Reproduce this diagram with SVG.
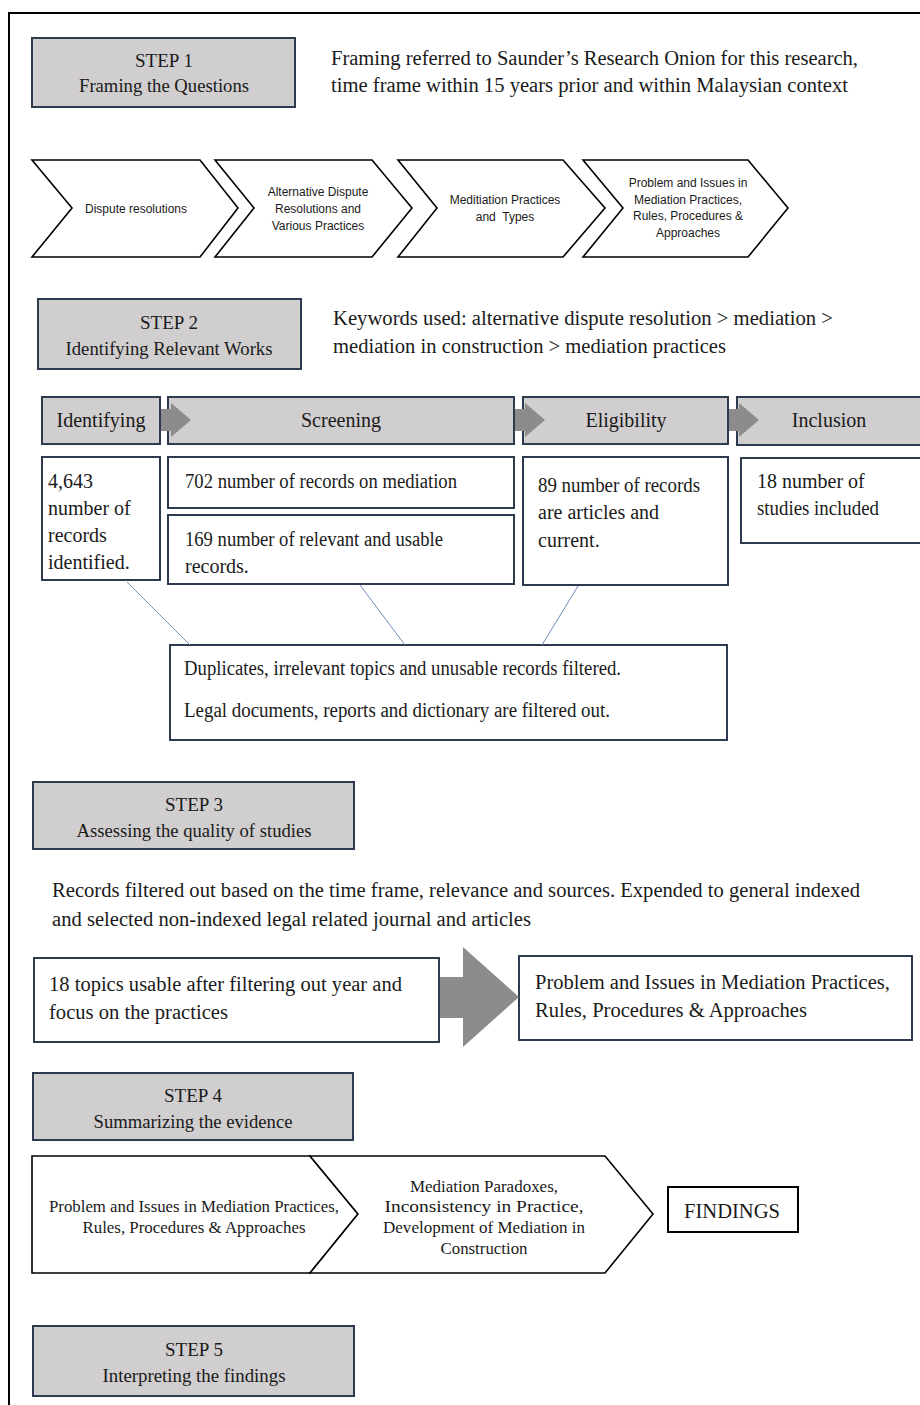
<svg xmlns="http://www.w3.org/2000/svg" width="920" height="1405" viewBox="0 0 920 1405">
<style>
.bg{fill:#ffffff}
.frame{fill:none;stroke:#000;stroke-width:2}
.step{fill:#d0cece;stroke:#2e3a4e;stroke-width:2}
.hdr{fill:#d0cece;stroke:#2e3a4e;stroke-width:2}
.box{fill:#ffffff;stroke:#2e3a4e;stroke-width:2}
.chev{fill:#ffffff;stroke:#000;stroke-width:1.6;stroke-linejoin:miter}
.garrow{fill:#8c8c8c}
.link{stroke:#6f8db5;stroke-width:1;fill:none}
.t{font-family:"Liberation Serif","Times New Roman",serif;font-size:20px;fill:#1a1a1a}
.ts{font-family:"Liberation Serif","Times New Roman",serif;font-size:19px;fill:#1a1a1a}
.t4{font-family:"Liberation Serif","Times New Roman",serif;font-size:17px;fill:#1a1a1a}
.c{font-family:"Liberation Sans",Arial,sans-serif;font-size:12px;fill:#1a1a1a}
.mid{text-anchor:middle}
</style>
<rect class="bg" x="0" y="0" width="920" height="1405"/>
<path class="frame" d="M9,1405 L9,13 L920,13"/>

<g id="step1">
<rect class="step" x="32" y="38" width="263" height="69"/>
<text class="ts mid" x="164" y="67">STEP 1</text>
<text class="ts mid" x="164" y="92" textLength="170" lengthAdjust="spacingAndGlyphs">Framing the Questions</text>
</g>
<g id="step1-note">
<text class="t" x="331" y="65" textLength="527" lengthAdjust="spacingAndGlyphs">Framing referred to Saunder’s Research Onion for this research,</text>
<text class="t" x="331" y="92" textLength="517" lengthAdjust="spacingAndGlyphs">time frame within 15 years prior and within Malaysian context</text>
</g>

<g id="chev1">
<path class="chev" d="M32,160 L200,160 L238,208 L200,257 L32,257 L72,208 Z"/>
<text class="c mid" x="136" y="213">Dispute resolutions</text>
</g>
<g id="chev2">
<path class="chev" d="M215,160 L372,160 L412,208 L372,257 L215,257 L254,208 Z"/>
<text class="c mid" x="318" y="196">Alternative Dispute</text>
<text class="c mid" x="318" y="213">Resolutions and</text>
<text class="c mid" x="318" y="230">Various Practices</text>
</g>
<g id="chev3">
<path class="chev" d="M398,160 L563,160 L605,208 L563,257 L398,257 L437,208 Z"/>
<text class="c mid" x="505" y="204">Meditiation Practices</text>
<text class="c mid" x="505" y="221" xml:space="preserve">and  Types</text>
</g>
<g id="chev4">
<path class="chev" d="M583,160 L748,160 L788,208 L748,257 L583,257 L623,208 Z"/>
<text class="c mid" x="688" y="187">Problem and Issues in</text>
<text class="c mid" x="688" y="204">Mediation Practices,</text>
<text class="c mid" x="688" y="220">Rules, Procedures &amp;</text>
<text class="c mid" x="688" y="237">Approaches</text>
</g>

<g id="step2">
<rect class="step" x="38" y="299" width="263" height="70"/>
<text class="ts mid" x="169" y="329">STEP 2</text>
<text class="ts mid" x="169" y="355" textLength="207" lengthAdjust="spacingAndGlyphs">Identifying Relevant Works</text>
</g>
<g id="step2-note">
<text class="t" x="333" y="325" textLength="500" lengthAdjust="spacingAndGlyphs">Keywords used: alternative dispute resolution &gt; mediation &gt;</text>
<text class="t" x="333" y="353" textLength="393" lengthAdjust="spacingAndGlyphs">mediation in construction &gt; mediation practices</text>
</g>

<g id="hdr-identifying">
<rect class="hdr" x="42" y="397" width="118" height="47"/>
<text class="t mid" x="101" y="427">Identifying</text>
</g>
<g id="hdr-screening">
<rect class="hdr" x="168" y="397" width="346" height="47"/>
<text class="t mid" x="341" y="427">Screening</text>
</g>
<g id="hdr-eligibility">
<rect class="hdr" x="523" y="397" width="205" height="47"/>
<text class="t mid" x="626" y="427">Eligibility</text>
</g>
<g id="hdr-inclusion">
<rect class="hdr" x="737" y="397" width="190" height="48"/>
<text class="t mid" x="829" y="427">Inclusion</text>
</g>

<g id="box-identified">
<rect class="box" x="42" y="457" width="118" height="123"/>
<text class="t" x="48" y="488">4,643</text>
<text class="t" x="48" y="515">number of</text>
<text class="t" x="48" y="542">records</text>
<text class="t" x="48" y="569">identified.</text>
</g>
<g id="box-702">
<rect class="box" x="168" y="457" width="346" height="51"/>
<text class="t" x="185" y="488" textLength="272" lengthAdjust="spacingAndGlyphs">702 number of records on mediation</text>
</g>
<g id="box-169">
<rect class="box" x="168" y="515" width="346" height="69"/>
<text class="t" x="185" y="546" textLength="258" lengthAdjust="spacingAndGlyphs">169 number of relevant and usable</text>
<text class="t" x="185" y="573">records.</text>
</g>
<g id="box-89">
<rect class="box" x="523" y="457" width="205" height="128"/>
<text class="t" x="538" y="492" textLength="162" lengthAdjust="spacingAndGlyphs">89 number of records</text>
<text class="t" x="538" y="519">are articles and</text>
<text class="t" x="538" y="547">current.</text>
</g>
<g id="box-18">
<rect class="box" x="741" y="458" width="190" height="85"/>
<text class="t" x="757" y="488">18 number of</text>
<text class="t" x="757" y="515" textLength="122" lengthAdjust="spacingAndGlyphs">studies included</text>
</g>

<g id="box-filtered">
<rect class="box" x="170" y="645" width="557" height="95"/>
<text class="t" x="184" y="675" textLength="437" lengthAdjust="spacingAndGlyphs">Duplicates, irrelevant topics and unusable records filtered.</text>
<text class="t" x="184" y="717" textLength="426" lengthAdjust="spacingAndGlyphs">Legal documents, reports and dictionary are filtered out.</text>
</g>

<g id="step3">
<rect class="step" x="33" y="782" width="321" height="67"/>
<text class="ts mid" x="194" y="811">STEP 3</text>
<text class="ts mid" x="194" y="837" textLength="235" lengthAdjust="spacingAndGlyphs">Assessing the quality of studies</text>
</g>
<g id="step3-note">
<text class="t" x="52" y="897" textLength="808" lengthAdjust="spacingAndGlyphs">Records filtered out based on the time frame, relevance and sources. Expended to general indexed</text>
<text class="t" x="52" y="926" textLength="479" lengthAdjust="spacingAndGlyphs">and selected non-indexed legal related journal and articles</text>
</g>

<g id="box-topics">
<rect class="box" x="34" y="958" width="405" height="84"/>
<text class="t" x="49" y="991" textLength="353" lengthAdjust="spacingAndGlyphs">18 topics usable after filtering out year and</text>
<text class="t" x="49" y="1019" textLength="179" lengthAdjust="spacingAndGlyphs">focus on the practices</text>
</g>
<g id="box-problem">
<rect class="box" x="519" y="956" width="393" height="84"/>
<text class="t" x="535" y="989" textLength="355" lengthAdjust="spacingAndGlyphs">Problem and Issues in Mediation Practices,</text>
<text class="t" x="535" y="1017" textLength="272" lengthAdjust="spacingAndGlyphs">Rules, Procedures &amp; Approaches</text>
</g>

<g id="step4">
<rect class="step" x="33" y="1073" width="320" height="67"/>
<text class="ts mid" x="193" y="1102">STEP 4</text>
<text class="ts mid" x="193" y="1128" textLength="199" lengthAdjust="spacingAndGlyphs">Summarizing the evidence</text>
</g>

<g id="pent-problem">
<path class="chev" d="M32,1156 L310,1156 L358,1214 L310,1273 L32,1273 Z"/>
<text class="t4 mid" x="194" y="1212" textLength="290" lengthAdjust="spacingAndGlyphs">Problem and Issues in Mediation Practices,</text>
<text class="t4 mid" x="194" y="1233" textLength="223" lengthAdjust="spacingAndGlyphs">Rules, Procedures &amp; Approaches</text>
</g>
<g id="chev-paradoxes">
<path class="chev" d="M310,1156 L605,1156 L653,1214 L605,1273 L310,1273 L358,1214 Z"/>
<text class="t4 mid" x="484" y="1192" textLength="148" lengthAdjust="spacingAndGlyphs">Mediation Paradoxes,</text>
<text class="t4 mid" x="484" y="1212" textLength="199" lengthAdjust="spacingAndGlyphs">Inconsistency in Practice,</text>
<text class="t4 mid" x="484" y="1233" textLength="202" lengthAdjust="spacingAndGlyphs">Development of Mediation in</text>
<text class="t4 mid" x="484" y="1254" textLength="87" lengthAdjust="spacingAndGlyphs">Construction</text>
</g>
<g id="findings">
<rect class="box" x="668" y="1187" width="130" height="45" style="stroke:#000"/>
<text class="t mid" x="732" y="1218" textLength="96" lengthAdjust="spacingAndGlyphs">FINDINGS</text>
</g>

<g id="step5">
<rect class="step" x="33" y="1326" width="321" height="70"/>
<text class="ts mid" x="194" y="1356">STEP 5</text>
<text class="ts mid" x="194" y="1382" textLength="183" lengthAdjust="spacingAndGlyphs">Interpreting the findings</text>
</g>

<g id="connectors">
<path class="garrow" d="M161,409 L171,409 L171,403 L191,420 L171,437 L171,431 L161,431 Z"/>
<path class="garrow" d="M515,409 L525,409 L525,403 L545,420 L525,437 L525,431 L515,431 Z"/>
<path class="garrow" d="M729,409 L739,409 L739,403 L759,420 L739,437 L739,431 L729,431 Z"/>
<line class="link" x1="127" y1="582" x2="190" y2="645"/>
<line class="link" x1="360" y1="585" x2="405" y2="645"/>
<line class="link" x1="578" y1="586" x2="542" y2="645"/>
<path class="garrow" d="M440,977 L463,977 L463,947 L519,997 L463,1047 L463,1018 L440,1018 Z"/>
</g>
</svg>
